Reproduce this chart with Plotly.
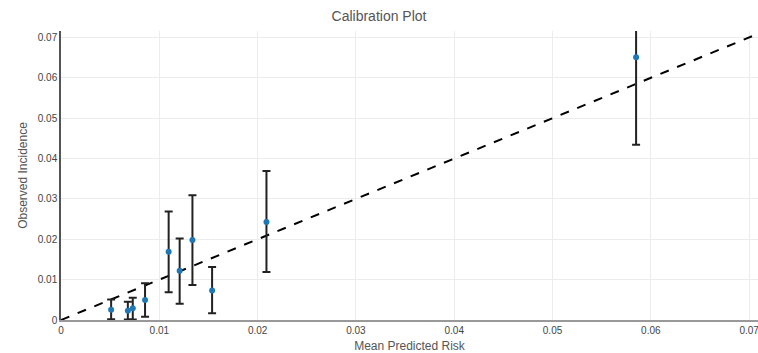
import plotly.graph_objects as go

pred_risk = [0.0051, 0.0068, 0.0073, 0.00855, 0.01095, 0.01207, 0.01337, 0.01537, 0.0209, 0.0585]
observed = [0.00255, 0.0023, 0.0029, 0.00495, 0.0169, 0.0122, 0.0198, 0.0073, 0.0243, 0.0651]
ci_upper = [0.0051, 0.0045, 0.0055, 0.0091, 0.0269, 0.0202, 0.0309, 0.0131, 0.0369, 0.0905]
ci_lower = [0.0002, 0.0001, 0.0001, 0.0008, 0.0069, 0.0040, 0.0087, 0.0017, 0.0119, 0.0434]

diag = [0, 0.08]
x_range = [0, 0.0709]
y_range = [0, 0.0716]
tick_vals = [0, 0.01, 0.02, 0.03, 0.04, 0.05, 0.06, 0.07]
tick_text = ["0", "0.01", "0.02", "0.03", "0.04", "0.05", "0.06", "0.07"]

err_plus = [u - o for u, o in zip(ci_upper, observed)]
err_minus = [o - l for o, l in zip(observed, ci_lower)]

fig = go.Figure()
fig.add_trace(go.Scatter(
    x=diag, y=diag, mode="lines",
    line=dict(color="black", width=2, dash="dash"),
    showlegend=False, hoverinfo="skip",
))
fig.add_trace(go.Scatter(
    x=pred_risk, y=observed, mode="markers",
    marker=dict(color="#1f77b4", size=6),
    error_y=dict(type="data", symmetric=False, array=err_plus, arrayminus=err_minus,
                 color="#222222", thickness=2, width=4),
    showlegend=False,
))

fig.update_layout(
    width=758, height=353,
    margin=dict(l=61, r=0, t=31, b=33, autoexpand=False),
    paper_bgcolor="white", plot_bgcolor="white",
    font=dict(family="Liberation Sans, Arial, sans-serif", color="#444", size=12),
    title=dict(text="Calibration Plot", x=0.5, xanchor="center", y=0.955, yanchor="middle",
               font=dict(size=14, color="#555")),
    xaxis=dict(
        range=x_range, tickvals=tick_vals, ticktext=tick_text, automargin=False,
        ticklabeloverflow="allow",
        showgrid=True, gridcolor="#ececec", zeroline=False,
        showline=True, linecolor="#999", linewidth=2,
        tickfont=dict(size=10, color="#444"),
        title=dict(text="Mean Predicted Risk", font=dict(size=12, color="#555"), standoff=10),
    ),
    yaxis=dict(
        range=y_range, tickvals=tick_vals, ticktext=tick_text, automargin=False,
        ticklabeloverflow="allow",
        showgrid=True, gridcolor="#ececec", zeroline=False,
        showline=True, linecolor="#555", linewidth=1.5,
        tickfont=dict(size=10, color="#444"),
        title=dict(text="Observed Incidence", font=dict(size=12, color="#555"), standoff=8),
    ),
)

fig.write_html(
    "out.html",
    config={"displayModeBar": False},
    post_script="document.body.style.margin='0';document.body.style.overflow='hidden';",
)
